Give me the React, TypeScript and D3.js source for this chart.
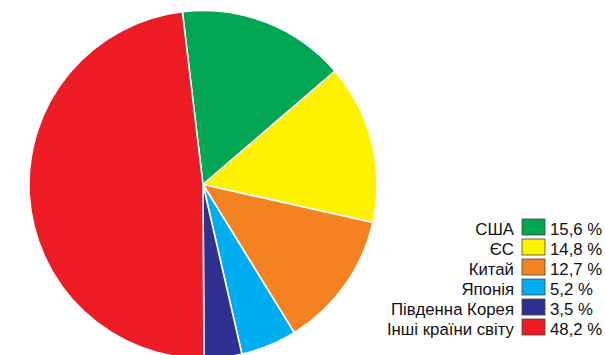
import React from "react";
import * as d3 from "d3";

const categories = ["США", "ЄС", "Китай", "Японія", "Південна Корея", "Інші країни світу"];
const values = [15.6, 14.8, 12.7, 5.2, 3.5, 48.2];
const valueLabels = ["15,6 %", "14,8 %", "12,7 %", "5,2 %", "3,5 %", "48,2 %"];
const colors = ["#00a651", "#fff200", "#f58220", "#00aeef", "#2e3192", "#ed1c24"];

export default function App() {
  const W = 605, H = 355;
  const cx = 203, cy = 184.5, r = 174;
  const start = (-6.8 * Math.PI) / 180;
  const pie = d3.pie<number>().sort(null).value(d => d).startAngle(start).endAngle(start + 2 * Math.PI);
  const arcs = pie(values);
  const arc = d3.arc<d3.PieArcDatum<number>>().innerRadius(0).outerRadius(r);
  const rowY = d3.scaleLinear().domain([0, 5]).range([219, 319]);
  const font = "Arial, 'Liberation Sans', sans-serif";
  return (
    <svg width={W} height={H} style={{ position: "absolute", left: 0, top: 0 }}>
      <g transform={`translate(${cx},${cy})`}>
        {arcs.map((a, i) => (
          <path key={i} d={arc(a) || ""} fill={colors[i]} stroke="#fff" strokeWidth={1.6} strokeLinejoin="round" />
        ))}
      </g>
      {categories.map((c, i) => {
        const y = rowY(i);
        return (
          <g key={i}>
            <rect x={522} y={y} width={23} height={16} fill={colors[i]} stroke="#444" strokeWidth={0.8} />
            <text x={514} y={y + 16.3} textAnchor="end" fontSize={16.8} fontFamily={font} fill="#111">{c}</text>
            <text x={550} y={y + 16.3} fontSize={16.8} fontFamily={font} fill="#111">{valueLabels[i]}</text>
          </g>
        );
      })}
    </svg>
  );
}
